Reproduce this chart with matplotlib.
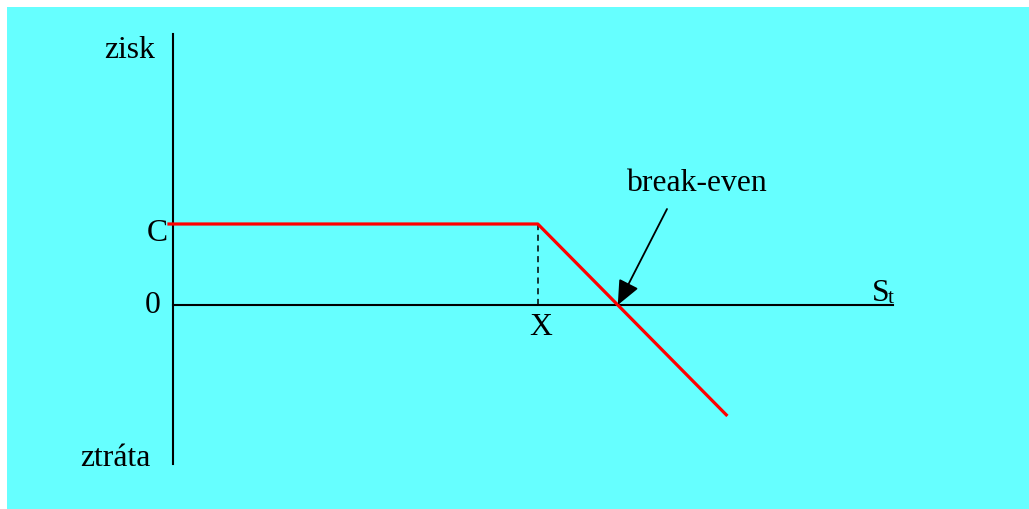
import matplotlib
matplotlib.use('Agg')
import matplotlib.pyplot as plt
from matplotlib.patches import Rectangle

plt.rcParams['font.family'] = ['Liberation Serif', 'DejaVu Serif']

# Data (payoff diagram: short call)
premium = 1.0          # C
strike = 4.56          # X
break_even = 5.56      # X + C
s_points = [-0.07, 4.56, 6.93]
profit = [1.0, 1.0, -1.37]
axis_s_max = 9.0
axis_p_top = 3.35
axis_p_bottom = -1.96

fig = plt.figure(figsize=(10.29, 5.10), dpi=100)
fig.patch.set_facecolor('white')

ax = fig.add_axes([0, 0, 1, 1])
ax.set_facecolor('none')
ax.set_xlim(-173 / 80, (1029 - 173) / 80)
ax.set_ylim(-204 / 81, 306 / 81)
ax.axis('off')

# pozadi
ax.add_patch(Rectangle((7 / 1029, 0), 1 - 7 / 1029, 1 - 8 / 510,
                       transform=fig.transFigure, facecolor='#66ffff',
                       edgecolor='none', zorder=0))

# osy
ax.plot([0, 0], [axis_p_bottom, axis_p_top], color='black', lw=1.5, zorder=2)
ax.plot([0, axis_s_max], [0, 0], color='black', lw=1.5, zorder=2)

# zisk / ztrata
ax.plot(s_points, profit, color='red', lw=2.3, solid_capstyle='butt', zorder=3)
ax.plot([strike, strike], [0, premium], color='black', lw=1.1, ls=(0, (4, 3)), zorder=2)

fs = 22.8
ax.text(-0.22, 3.16, 'zisk', fontsize=fs, ha='right', va='center')
ax.text(-0.07, premium - 0.1, 'C', fontsize=fs, ha='right', va='center')
ax.text(-0.16, 0, '0', fontsize=fs, ha='right', va='center')
ax.text(strike + 0.04, -0.27, 'X', fontsize=fs, ha='center', va='center')
ax.text(8.74, 0.06, 'S', fontsize=fs, ha='left', va='baseline')
ax.text(8.94, 0.04, 't', fontsize=15, ha='left', va='baseline')
ax.text(-0.28, -1.88, 'ztráta', fontsize=fs, ha='right', va='center')

ax.text(break_even + 0.99, 1.51, 'break-even', fontsize=fs, ha='center', va='center')
ax.annotate('', xy=(break_even, 0.0), xytext=(6.175, 1.185), zorder=4,
            arrowprops=dict(arrowstyle='-|>,head_length=0.75,head_width=0.33',
                            mutation_scale=20, color='black', lw=1.3,
                            shrinkA=0, shrinkB=0))

fig.savefig('out.png', dpi=100)
